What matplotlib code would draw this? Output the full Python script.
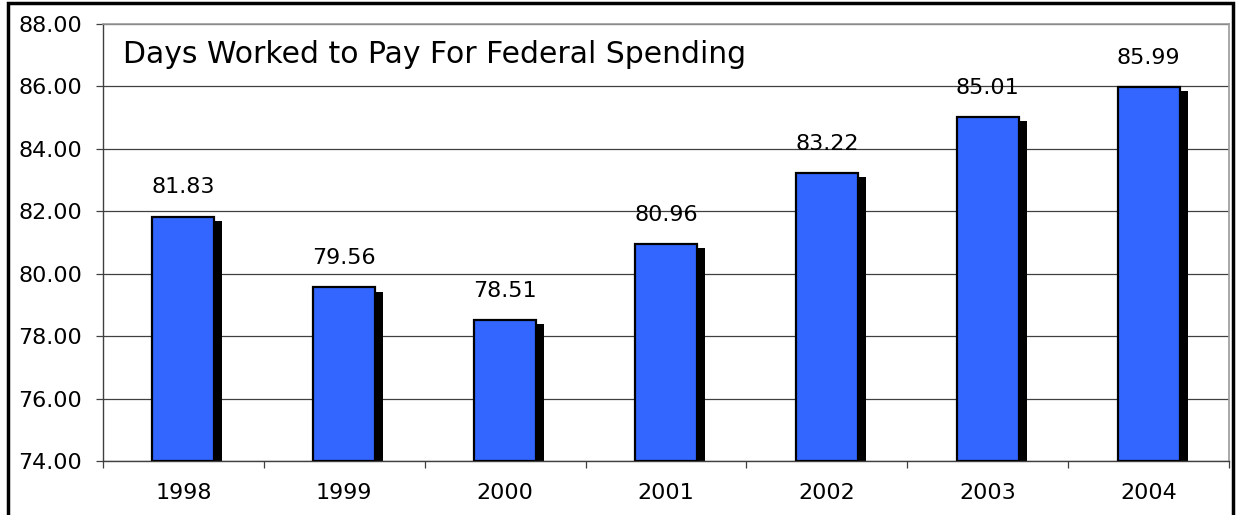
import matplotlib
matplotlib.use("Agg")
import matplotlib.pyplot as plt
from matplotlib.patches import Rectangle
import numpy as np

plt.rcParams["font.family"] = ["DejaVu Sans"]

years = ["1998", "1999", "2000", "2001", "2002", "2003", "2004"]
days = [81.83, 79.56, 78.51, 80.96, 83.22, 85.01, 85.99]
title = "Days Worked to Pay For Federal Spending"

BLUE = "#3366FF"
BASE = 74.0
FS = 16

fig = plt.figure(figsize=(12.36, 5.15), dpi=100)
ax = fig.add_axes([103 / 1236, 1 - 461 / 515, 1126 / 1236, 437 / 515])

x = np.arange(len(years))
w = 0.385
# drop shadow behind each bar
ax.bar(x + 0.05, [v - BASE - 0.13 for v in days], w, bottom=BASE,
       color="black", edgecolor="none", zorder=2)
ax.bar(x, [v - BASE for v in days], w, bottom=BASE,
       color=BLUE, edgecolor="black", linewidth=1.6, zorder=3)
for xi, v in zip(x, days):
    ax.annotate(f"{v:.2f}", (xi, v), xytext=(0, 21), textcoords="offset points",
                ha="center", va="center", fontsize=FS)

ax.set_xlim(-0.5, len(years) - 0.5)
ax.set_ylim(74, 88)
yt = np.arange(74, 88.1, 2)
ax.set_yticks(yt)
ax.set_yticklabels([f"{t:.2f}" for t in yt], fontsize=FS)
ax.yaxis.grid(True, color="#404040", linewidth=0.9, zorder=0)
ax.set_axisbelow(True)
ax.tick_params(axis="y", direction="out", length=5, width=0.9, color="#404040", pad=10)

# category labels centred on bars, tick marks between categories
ax.set_xticks(np.arange(-0.5, len(years)))
ax.set_xticklabels([])
ax.set_xticks(x, minor=True)
ax.set_xticklabels(years, minor=True, fontsize=FS)
ax.tick_params(axis="x", which="major", direction="out", length=5, width=0.9, color="#404040")
ax.tick_params(axis="x", which="minor", length=0, pad=16)

for s in ["left", "bottom"]:
    ax.spines[s].set_color("#404040")
    ax.spines[s].set_linewidth(1.0)
for s in ["top", "right"]:
    ax.spines[s].set_color("#999999")
    ax.spines[s].set_linewidth(1.2)

ax.text(0.018, 0.93, title, transform=ax.transAxes, fontsize=21.5,
        ha="left", va="center")

# outer frame of the chart object
fig.patches.append(Rectangle((8 / 1236, -0.05), 1225 / 1236, 1.05 - 3 / 515,
                             transform=fig.transFigure, fill=False,
                             edgecolor="black", linewidth=2.5, clip_on=False))

fig.savefig("out.png", dpi=100)
